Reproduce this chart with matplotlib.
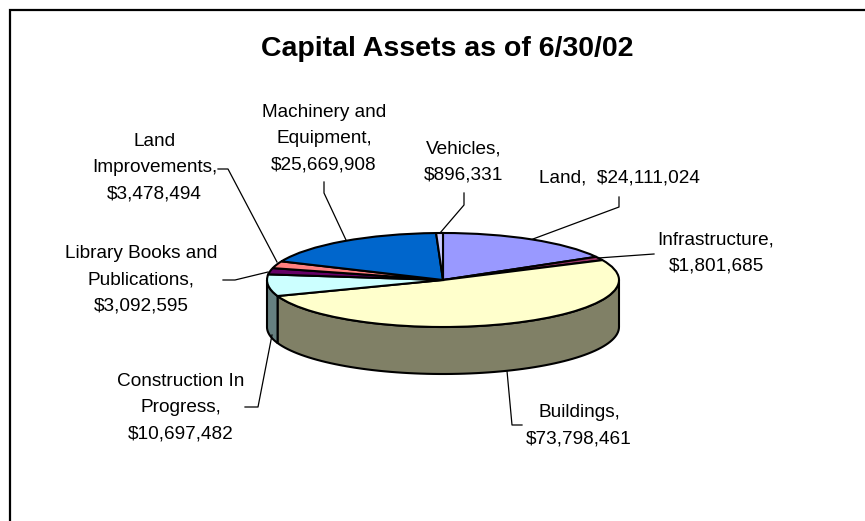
import numpy as np
import matplotlib
matplotlib.use("Agg")
import matplotlib.pyplot as plt

plt.rcParams["font.family"] = ["Liberation Sans", "DejaVu Sans"]

# ============================================================
# Excel style 3D pie: Capital Assets as of 6/30/02
# ============================================================

TITLE = "Capital Assets as of 6/30/02"
CATEGORIES = ["Land", "Infrastructure", "Buildings", "Construction In Progress",
              "Library Books and Publications", "Land Improvements",
              "Machinery and Equipment", "Vehicles"]
VALUES = [24111024, 1801685, 73798461, 10697482, 3092595, 3478494, 25669908, 896331]
COLORS = ["#9999FF", "#993366", "#FFFFCC", "#CCFFFF",
          "#660066", "#FF8080", "#0066CC", "#CCCCFF"]
SIDE_COLORS = ["#666699", "#662244", "#808066", "#668080",
               "#330033", "#804040", "#003366", "#666680"]
LABELS = ["Land,  $24,111,024", "Infrastructure,\n$1,801,685", "Buildings,\n$73,798,461",
          "Construction In\nProgress,\n$10,697,482", "Library Books and\nPublications,\n$3,092,595",
          "Land\nImprovements,\n$3,478,494", "Machinery and\nEquipment,\n$25,669,908",
          "Vehicles,\n$896,331"]

# label centres and leader lines, in pixels of the 865x521 picture
LABEL_POS = [(619, 178), (716, 253), (579, 426), (181, 408), (141, 280), (154.5, 168), (324, 138.5), (464, 162)]
LEADERS = [
    [(533, 239), (619, 207), (619, 197)],
    [(598, 258), (654, 254)],
    [(507, 371), (512, 425), (522, 425)],
    [(272, 335), (258, 407), (245, 407)],
    [(268, 272), (235, 280), (223, 280)],
    [(277, 262), (228, 169), (218, 169)],
    [(346, 240), (324, 193), (324, 182)],
    [(440, 233), (464, 205), (464, 193)],
]

W, H = 865, 521
CX, CY, RX, RY = 443, 280, 176, 47
DEPTH = 47


def draw_side(ax):
    # extruded rim, only the part of each slice on the front half shows
    edges = np.cumsum([0] + VALUES) / sum(VALUES) * 2 * np.pi
    for i in range(len(VALUES)):
        a0 = max(edges[i], np.pi / 2)
        a1 = min(edges[i + 1], 3 * np.pi / 2)
        if a1 <= a0:
            continue
        t = np.linspace(a0, a1, 80)
        x = np.sin(t)
        y = np.cos(t)
        ax.fill(np.r_[x, x[::-1]], np.r_[y, y[::-1] - DEPTH / RY],
                facecolor=SIDE_COLORS[i], edgecolor="black", lw=1.5, zorder=0.5)


def main():
    fig = plt.figure(figsize=(W / 100, H / 100), dpi=100, facecolor="white")
    ax = fig.add_axes([0, 0, 1, 1])
    draw_side(ax)
    ax.pie(VALUES, colors=COLORS, startangle=90, counterclock=False, radius=1,
           wedgeprops={"edgecolor": "black", "linewidth": 1.5})
    ax.set_aspect("auto")
    ax.set_xlim(-CX / RX, (W - CX) / RX)
    ax.set_ylim((CY - H) / RY, CY / RY)
    ax.set_axis_off()

    # overlay in pixel coordinates for frame, leaders and text
    ov = fig.add_axes([0, 0, 1, 1], facecolor="none")
    ov.set_xlim(0, W)
    ov.set_ylim(H, 0)
    ov.set_axis_off()

    ov.plot([10, 10, W], [H, 10, 10], color="black", lw=1.6, solid_joinstyle="miter")

    for pts in LEADERS:
        xs, ys = zip(*pts)
        ov.plot(xs, ys, color="black", lw=0.9)

    for (x, y), label in zip(LABEL_POS, LABELS):
        ov.text(x, y, label, ha="center", va="center", fontsize=13.7, linespacing=1.72)

    ov.text(447, 49, TITLE, ha="center", va="center", fontsize=20.5, fontweight="bold")

    fig.savefig("out.png", dpi=100)


if __name__ == "__main__":
    main()
